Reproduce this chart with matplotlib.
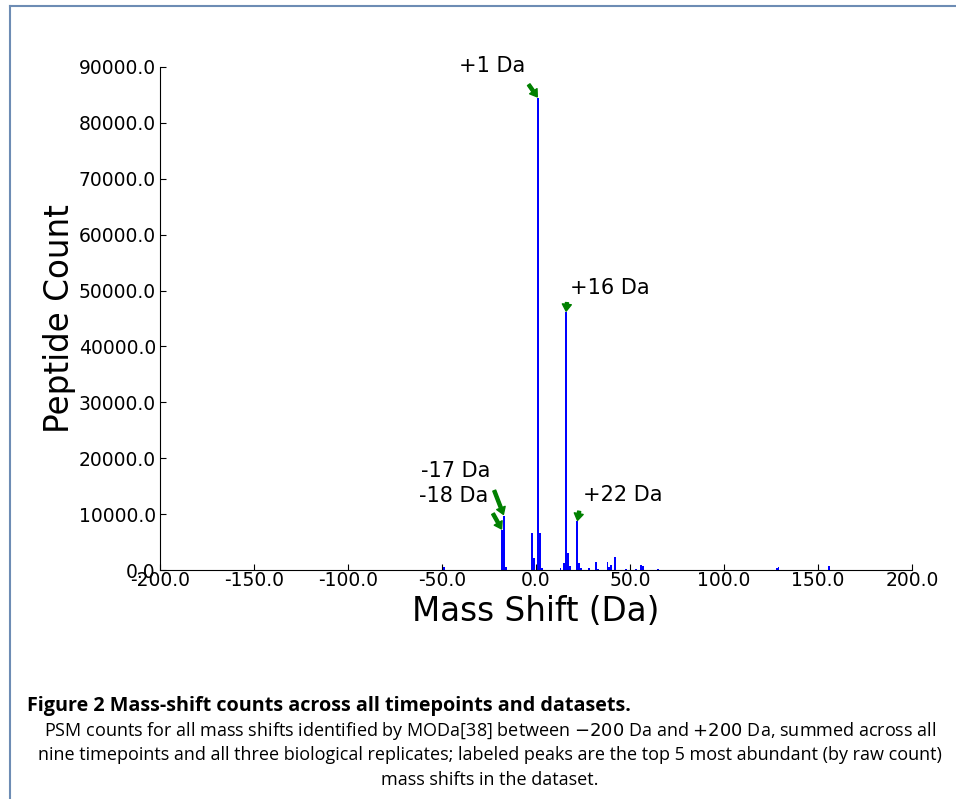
import matplotlib
matplotlib.use('Agg')
import matplotlib.pyplot as plt
from matplotlib.lines import Line2D

plt.rcParams['font.family'] = ['DejaVu Sans']

# PSM counts per integer mass shift (Da), summed over timepoints/replicates
mass_shift = [-49, -18, -17, -16, -2, -1, 1, 2, 3,
              13, 15, 16, 17, 18, 22, 23, 24, 28, 32, 33,
              38, 39, 40, 42, 48, 53, 56, 57, 65, 128, 129, 156]
psm_count = [500, 7150, 9650, 500, 6650, 2150, 84500, 6650, 300,
             400, 1300, 46200, 3000, 700, 8750, 1200, 350, 400, 1430, 200,
             1430, 500, 900, 2300, 250, 250, 900, 700, 250, 400, 550, 800]

# top five peaks
peak_labels = ['+1 Da', '+16 Da', '+22 Da', '-17 Da', '-18 Da']
peak_mass = [1, 16, 22, -17, -18]
# label offset and arrow tail offset from the bar top, in points
label_offset = [(-56.5, 23), (3, 17.3), (4.3, 18.7), (-59.8, 32.4), (-60, 24.5)]
tail_offset = [(-7, 10), (0.7, 7), (1.4, 7.5), (-7.5, 19.5), (-7, 12.5)]

x_ticks = [-200, -150, -100, -50, 0, 50, 100, 150, 200]
y_ticks = [0, 10000, 20000, 30000, 40000, 50000, 60000, 70000, 80000, 90000]

caption_title = 'Figure 2 Mass-shift counts across all timepoints and datasets.'
caption_body = [
    'PSM counts for all mass shifts identified by MODa[38] between $-200$ Da and $+200$ Da, summed across all',
    'nine timepoints and all three biological replicates; labeled peaks are the top 5 most abundant (by raw count)',
    'mass shifts in the dataset.',
]

W, H = 956, 799
fig = plt.figure(figsize=(W / 100, H / 100), dpi=100)
ax = fig.add_axes([160 / W, 1 - 570 / H, 752 / W, 503 / H])

ax.bar(mass_shift, psm_count, width=1.0, color='#0000ff', edgecolor='none')

count_of = dict(zip(mass_shift, psm_count))
for lb, m, loff, toff in zip(peak_labels, peak_mass, label_offset, tail_offset):
    top = (m, count_of[m])
    ax.annotate(lb, xy=top, xytext=loff, textcoords='offset points',
                fontsize=15, ha='left', va='center')
    ax.annotate('', xy=top, xytext=toff, textcoords='offset points',
                arrowprops=dict(facecolor='green', edgecolor='green', width=2.2,
                                headwidth=6.5, headlength=5, shrink=0.06))

ax.set_xlim(-200, 200)
ax.set_ylim(0, 90000)
ax.set_xticks(x_ticks)
ax.set_yticks(y_ticks)
ax.set_xticklabels([f'{v:.1f}' for v in x_ticks])
ax.set_yticklabels([f'{v:.1f}' for v in y_ticks])
ax.tick_params(direction='in', length=4, labelsize=13.5)
ax.tick_params(axis='x', pad=1)
ax.tick_params(axis='y', pad=3)
ax.spines['top'].set_visible(False)
ax.spines['right'].set_visible(False)
ax.set_xlabel('Mass Shift (Da)', fontsize=23.5, labelpad=3.5)
ax.set_ylabel('Peptide Count', fontsize=23.5, labelpad=2)

# page frame
frame_c = '#6d8cb4'
fig.add_artist(Line2D([9.5 / W, 9.5 / W], [0, 1 - 5.5 / H], transform=fig.transFigure,
                      color=frame_c, lw=1.5))
fig.add_artist(Line2D([9.5 / W, 1], [1 - 5.5 / H, 1 - 5.5 / H], transform=fig.transFigure,
                      color=frame_c, lw=1.5))

cap_font = ['Open Sans', 'DejaVu Sans']
fig.text(27 / W, 1 - 706 / H, caption_title, fontsize=14.25, fontweight='bold',
         family=cap_font, ha='left', va='center')
for i, line in enumerate(caption_body):
    fig.text(490 / W, 1 - (731 + 24.5 * i) / H, line, fontsize=13,
             family=cap_font, ha='center', va='center')

fig.savefig('out.png', dpi=100)
